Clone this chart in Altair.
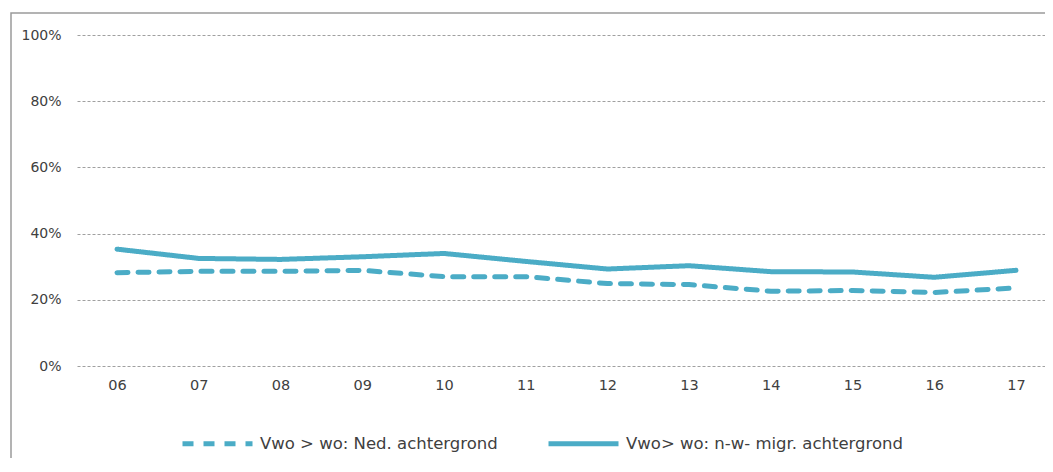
import altair as alt
import pandas as pd

years = ["06", "07", "08", "09", "10", "11", "12", "13", "14", "15", "16", "17"]
ned = [28.2, 28.6, 28.6, 28.9, 27.0, 27.0, 24.9, 24.6, 22.6, 22.8, 22.2, 23.6]
migr = [35.3, 32.5, 32.2, 33.0, 34.0, 31.6, 29.3, 30.3, 28.5, 28.4, 26.8, 28.9]
series = ["Vwo > wo: Ned. achtergrond", "Vwo> wo: n-w- migr. achtergrond"]
y_ticks = [0, 0.2, 0.4, 0.6, 0.8, 1.0]

rows = []
for i, yr in enumerate(years):
    rows.append({"jaar": int(yr), "reeks": series[0], "waarde": ned[i] / 100})
    rows.append({"jaar": int(yr), "reeks": series[1], "waarde": migr[i] / 100})
df = pd.DataFrame(rows)
x_values = [int(y) for y in years]

W, H = 968, 331
FONT = "DejaVu Sans"
TXT = "#404040"
LINE = "#4BACC6"

frame = alt.Chart(pd.DataFrame({"a": [0]})).mark_rect(
    filled=False, stroke="#9a9a9a", strokeWidth=1.5
).encode(
    x=alt.value(-66), x2=alt.value(W + 40),
    y=alt.value(-22), y2=alt.value(H + 200),
)

lines = alt.Chart(df).mark_line(strokeWidth=5, strokeCap="round", strokeJoin="round").encode(
    x=alt.X("jaar:Q",
            scale=alt.Scale(domain=[5.5106, 17.355], nice=False, zero=False),
            axis=alt.Axis(title=None, values=x_values, labelAngle=0, ticks=False, domain=False,
                          labelExpr="datum.value < 10 ? '0' + datum.value : '' + datum.value",
                          labelPadding=12, labelFont=FONT, labelFontSize=14.5,
                          labelColor=TXT, grid=False, labelFlush=False)),
    y=alt.Y("waarde:Q", scale=alt.Scale(domain=[0, 1], nice=False),
            axis=alt.Axis(title=None, values=y_ticks, format=".0%", ticks=False,
                          domain=False, labelPadding=16, labelFont=FONT,
                          labelFontSize=14, labelColor=TXT, grid=True,
                          gridColor="#a0a0a0", gridDash=[3, 2], gridWidth=1)),
    color=alt.Color("reeks:N", sort=series,
                    scale=alt.Scale(domain=series, range=[LINE, LINE]),
                    legend=alt.Legend(title=None, orient="none", legendX=103, legendY=371,
                                      direction="horizontal", symbolType="stroke",
                                      symbolSize=4900, symbolStrokeWidth=5,
                                      labelFont=FONT, labelFontSize=16.5, labelColor=TXT,
                                      labelOffset=5, columnPadding=40, labelLimit=0)),
    strokeDash=alt.StrokeDash("reeks:N", sort=series,
                              scale=alt.Scale(domain=series, range=[[11, 10], [1, 0]]),
                              legend=None),
)

chart = alt.layer(frame, lines).properties(
    width=W, height=H,
    background="white",
    autosize=alt.AutoSizeParams(type="none"),
    padding={"left": 69, "top": 27, "right": 0, "bottom": 92},
).configure_view(stroke=None)

chart.save("out.html", embed_options={"renderer": "svg", "actions": False})
